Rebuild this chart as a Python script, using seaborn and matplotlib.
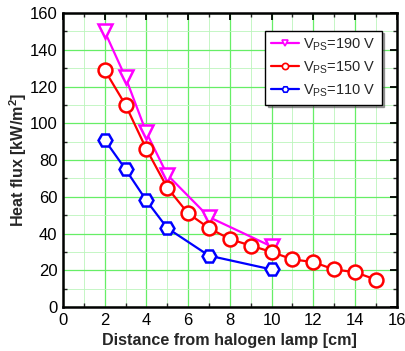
import pandas as pd
import seaborn as sns
import matplotlib.pyplot as plt
from matplotlib.ticker import MultipleLocator

sns.set_theme(style="white", context="paper")
plt.rcParams['font.family'] = ['Liberation Sans', 'DejaVu Sans']

# Dane
x_190 = [2, 3, 4, 5, 7, 10]
y_190 = [150, 125, 95, 72, 49, 33]
x_150 = [2, 3, 4, 5, 6, 7, 8, 9, 10, 11, 12, 13, 14, 15]
y_150 = [129, 110, 86, 65, 51, 43, 37, 33.5, 30, 26, 24.5, 20.5, 19, 15]
x_110 = [2, 3, 4, 5, 7, 10]
y_110 = [91, 75, 58, 43, 28, 20.5]

series = [
    ('$\\mathregular{V_{PS}}$=190 V', x_190, y_190, '#ff00ff', 'v'),
    ('$\\mathregular{V_{PS}}$=150 V', x_150, y_150, '#ff0000', 'o'),
    ('$\\mathregular{V_{PS}}$=110 V', x_110, y_110, '#0000ff', 'H'),
]

fig = plt.figure(figsize=(4.06, 3.51), dpi=100)
ax = fig.add_axes([0.155, 0.125, 0.822, 0.838])

for label, xs, ys, color, marker in series:
    df = pd.DataFrame({'x': xs, 'y': ys})
    sns.lineplot(data=df, x='x', y='y', ax=ax, color=color, marker=marker,
                 markersize=10, linewidth=1.6, label=label)

# puste markery z kolorową obwódką
for line in ax.get_lines():
    c = line.get_color()
    line.set_markerfacecolor('white')
    line.set_markeredgecolor(c)
    line.set_markeredgewidth(1.8)

ax.set_xlim(0, 16)
ax.set_ylim(0, 160)
ax.xaxis.set_major_locator(MultipleLocator(2))
ax.xaxis.set_minor_locator(MultipleLocator(1))
ax.yaxis.set_major_locator(MultipleLocator(20))
ax.yaxis.set_minor_locator(MultipleLocator(10))
ax.grid(which='major', color='#66ee66', linewidth=0.9)
ax.grid(which='minor', color='#bbf5bb', linewidth=0.6)
ax.set_axisbelow(True)

for s in ax.spines.values():
    s.set_color('black')
    s.set_linewidth(1.8)
ax.tick_params(which='major', direction='in', length=5, width=1.3,
               top=True, right=True, labelsize=12, colors='black', pad=4)
ax.tick_params(which='minor', direction='in', length=3, width=1.0,
               top=True, right=True, bottom=True, left=True)

ax.set_xlabel('Distance from halogen lamp [cm]', fontsize=11.6, fontweight='bold', labelpad=4)
ax.set_ylabel('Heat flux [kW/m$\\mathregular{^2}$]', fontsize=11.6, fontweight='bold', labelpad=0)

leg = ax.legend(loc='upper right', bbox_to_anchor=(0.955, 0.94), fontsize=10.5,
                frameon=True, fancybox=False, shadow=True, markerscale=0.45,
                handlelength=1.9, handletextpad=0.3, borderpad=0.4, labelspacing=0.45,
                borderaxespad=0)
leg.get_frame().set_edgecolor('black')
leg.get_frame().set_linewidth(1.0)
for h in leg.legend_handles:
    h.set_markerfacecolor('white')
    h.set_markeredgewidth(1.2)

plt.savefig('out.png', dpi=100)
